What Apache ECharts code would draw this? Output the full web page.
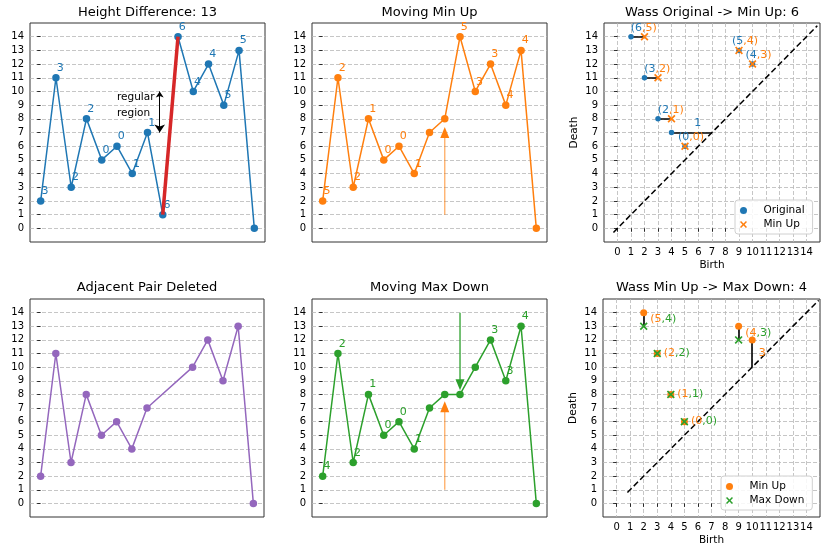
<!DOCTYPE html>
<html>
<head>
<meta charset="utf-8">
<script src="https://cdn.jsdelivr.net/npm/echarts@6/dist/echarts.min.js"></script>
<style>
html, body { margin: 0; padding: 0; background: #fff; }
#chartDiv { width: 830px; height: 558px; }
</style>
</head>
<body>
<div id="chartDiv"></div>
<script>
var myChart = echarts.init(document.getElementById('chartDiv'));

var blue = '#1f77b4', orange = '#ff7f0e', green = '#2ca02c', red = '#d62728', purple = '#9467bd';
var font = 'DejaVu Sans';

var ticks = [0, 1, 2, 3, 4, 5, 6, 7, 8, 9, 10, 11, 12, 13, 14];
var titleTexts = ['Height Difference: 13', 'Moving Min Up', 'Wass Original -> Min Up: 6',
    'Adjacent Pair Deleted', 'Moving Max Down', 'Wass Min Up -> Max Down: 4'];

// heights, index = position along the sequence
var originalY = [2, 11, 3, 8, 5, 6, 4, 7, 1, 14, 10, 12, 9, 13, 0];
var originalLabels = ['3', '3', '2', '2', '0', '0', '1', '1', '6', '6', '4', '4', '5', '5', ''];
var minUpY = [2, 11, 3, 8, 5, 6, 4, 7, 8, 14, 10, 12, 9, 13, 0];
var minUpLabels = ['5', '2', '2', '1', '0', '0', '1', '', '', '5', '3', '3', '4', '4', ''];
var deletedX = [0, 1, 2, 3, 4, 5, 6, 7, 10, 11, 12, 13, 14];
var deletedY = [2, 11, 3, 8, 5, 6, 4, 7, 10, 12, 9, 13, 0];
var maxDownY = [2, 11, 3, 8, 5, 6, 4, 7, 8, 8, 10, 12, 9, 13, 0];
var maxDownLabels = ['4', '2', '2', '1', '0', '0', '1', '', '', '', '', '3', '3', '4', ''];

var heightSegment = [[8, 1], [9, 14]];
var regularArrow = [[7.8, 10], [7.8, 7]];
var regularText = [5, 9];
// arrows: [x, start, tip]
var minUpArrow = [8, 1, 7.4];
var minUpArrow2 = [8, 1, 7.5];
var maxDownArrow = [9, 14, 8.3];

// persistence diagrams (birth, death)
var originalDgm = [[1, 14], [2, 11], [3, 8], [4, 7], [5, 6], [9, 13], [10, 12]];
var minUpDgm = [[2, 14], [3, 11], [4, 8], [5, 6], [9, 13], [10, 12]];
var maxDownDgm = [[2, 13], [3, 11], [4, 8], [5, 6], [9, 12]];
var match1 = [[[1, 14], [2, 14]], [[2, 11], [3, 11]], [[3, 8], [4, 8]], [[4, 7], [7, 7]],
    [[5, 6], [5, 6]], [[9, 13], [9, 13]], [[10, 12], [10, 12]]];
var match1From = ['6', '3', '2', '1', '0', '5', '4'];
var match1To = ['5', '2', '1', '', '0', '4', '3'];
var match2 = [[[2, 14], [2, 13]], [[9, 13], [9, 12]], [[10, 12], [10, 10]],
    [[3, 11], [3, 11]], [[4, 8], [4, 8]], [[5, 6], [5, 6]]];
var match2From = ['5', '4', '3', '2', '1', '0'];
var match2To = ['4', '3', '', '2', '1', '0'];
var diag1 = [-0.3, 14.8];
var diag2 = [0.8, 14.9];

var xSymbol = 'path://M0,1.5L1.5,0L5,3.5L8.5,0L10,1.5L6.5,5L10,8.5L8.5,10L5,6.5L1.5,10L0,8.5L3.5,5Z';

var gridDash = {type: [4, 2], color: '#b8b8b8', width: 0.8};

var grids = [
    {left: 30, top: 23, width: 235, height: 219},
    {left: 312, top: 23, width: 235, height: 219},
    {left: 604, top: 23, width: 216, height: 219},
    {left: 30, top: 299, width: 234, height: 218},
    {left: 312, top: 299, width: 235, height: 218},
    {left: 603, top: 299, width: 217, height: 218}
];
grids.forEach(function (g) {
    g.show = true;
    g.borderColor = '#333';
    g.borderWidth = 1;
    g.backgroundColor = 'transparent';
});

var titles = titleTexts.map(function (t, i) {
    return {
        text: t,
        left: grids[i].left + grids[i].width / 2,
        top: i < 3 ? 6 : 281,
        padding: 0,
        textAlign: 'center',
        textStyle: {fontFamily: font, fontSize: 13, fontWeight: 'normal', color: '#000'}
    };
});

function hideEnds(v) { return (v < 0 || v > 14) ? '' : String(v); }

function valueAxis(gi, isDiag, name, isX) {
    var ax = {
        type: 'value',
        gridIndex: gi,
        min: -1,
        max: 15,
        interval: 1,
        axisLine: {show: false},
        axisTick: {show: true, length: 3.5, customValues: ticks, lineStyle: {color: '#000', width: 0.8}},
        axisLabel: {show: true, customValues: ticks, formatter: hideEnds, margin: isX ? 5 : 6,
            fontFamily: font, fontSize: 10, color: '#000'},
        splitLine: {show: true, lineStyle: gridDash}
    };
    if (name) {
        ax.name = name;
        ax.nameLocation = 'middle';
        ax.nameGap = isX ? 18 : 24;
        ax.nameTextStyle = {fontFamily: font, fontSize: 10.5, color: '#000'};
    }
    return ax;
}

function seqXAxis(gi) {
    return {
        type: 'value', gridIndex: gi, min: -0.7, max: 14.7,
        axisLine: {show: false}, axisTick: {show: false}, axisLabel: {show: false}, splitLine: {show: false}
    };
}

var xAxes = [seqXAxis(0), seqXAxis(1), valueAxis(2, true, 'Birth', true),
    seqXAxis(3), seqXAxis(4), valueAxis(5, true, 'Birth', true)];
var yAxes = [valueAxis(0), valueAxis(1), valueAxis(2, true, 'Death', false),
    valueAxis(3), valueAxis(4), valueAxis(5, true, 'Death', false)];

function seqLine(gi, ys, xs, color, labels) {
    return {
        type: 'line',
        xAxisIndex: gi, yAxisIndex: gi,
        data: ys.map(function (v, i) { return [xs ? xs[i] : i, v]; }),
        symbol: 'circle', symbolSize: 7.5,
        itemStyle: {color: color, opacity: 1},
        lineStyle: {color: color, width: 1.5},
        label: {
            show: !!labels,
            position: [4.5, -11.5],
            fontFamily: font, fontSize: 11, color: color,
            formatter: function (p) { return labels ? labels[p.dataIndex] : ''; }
        },
        animation: false, z: 3
    };
}

function arrowSeries(gi, arr, color, shaftColor) {
    var up = arr[2] > arr[1];
    var center = up ? arr[2] - 0.4 : arr[2] + 0.4;
    return [{
        type: 'line', xAxisIndex: gi, yAxisIndex: gi,
        data: [[arr[0], arr[1]], [arr[0], center]],
        showSymbol: false, symbol: 'none',
        lineStyle: {color: shaftColor, width: 1.3},
        animation: false, z: 4
    }, {
        type: 'scatter', xAxisIndex: gi, yAxisIndex: gi,
        data: [[arr[0], center]],
        symbol: 'triangle', symbolSize: [9, 11], symbolRotate: up ? 0 : 180,
        itemStyle: {color: color, opacity: 1},
        animation: false, z: 5
    }];
}

function diagSeries(gi, diag, matches, fromPts, toPts, fromColor, toColor, fromName, toName,
                    fromSize, labFrom, labTo, labPos) {
    var mids = matches.map(function (m) {
        return [(m[0][0] + m[1][0]) / 2, (m[0][1] + m[1][1]) / 2];
    });
    return [{
        type: 'line', xAxisIndex: gi, yAxisIndex: gi,
        data: [[diag[0], diag[0]], [diag[1], diag[1]]],
        showSymbol: false, symbol: 'none',
        lineStyle: {color: '#000', width: 1.5, type: [6, 3]},
        animation: false, z: 2
    }, {
        type: 'lines', coordinateSystem: 'cartesian2d', xAxisIndex: gi, yAxisIndex: gi,
        data: matches.map(function (m) { return {coords: m}; }),
        lineStyle: {color: '#000', width: 1.6, opacity: 1},
        symbol: ['none', 'none'],
        animation: false, z: 3
    }, {
        name: fromName, type: 'scatter', xAxisIndex: gi, yAxisIndex: gi,
        data: fromPts, symbol: 'circle', symbolSize: fromSize,
        itemStyle: {color: fromColor, opacity: 1},
        animation: false, z: 4
    }, {
        name: toName, type: 'scatter', xAxisIndex: gi, yAxisIndex: gi,
        data: toPts, symbol: xSymbol, symbolSize: 8,
        itemStyle: {color: toColor, opacity: 1},
        animation: false, z: 5
    }, {
        type: 'scatter', xAxisIndex: gi, yAxisIndex: gi,
        data: mids, symbol: 'circle', symbolSize: 1, silent: true,
        itemStyle: {color: 'rgba(0,0,0,0)', opacity: 1},
        label: {
            show: true,
            position: labPos,
            distance: labPos === 'top' ? 3 : 6,
            offset: labPos === 'top' ? [6, 0] : [0, 0],
            fontFamily: font, fontSize: 11, color: '#000',
            textBorderWidth: 0, textShadowBlur: 0,
            formatter: function (p) {
                var a = labFrom[p.dataIndex], b = labTo[p.dataIndex];
                return b ? '{a|(' + a + '}{b|,' + b + ')}' : '{a|' + a + '}';
            },
            rich: {
                a: {color: fromColor, fontFamily: font, fontSize: 11, textBorderWidth: 0},
                b: {color: toColor, fontFamily: font, fontSize: 11, textBorderWidth: 0}
            }
        },
        animation: false, z: 6
    }];
}

var series = [];

// panel 1
series.push(seqLine(0, originalY, null, blue, originalLabels));
series.push({
    type: 'line', xAxisIndex: 0, yAxisIndex: 0, data: heightSegment,
    showSymbol: false, symbol: 'none', lineStyle: {color: red, width: 3.5}, animation: false, z: 4
});
series.push({
    type: 'lines', coordinateSystem: 'cartesian2d', xAxisIndex: 0, yAxisIndex: 0,
    data: [{coords: regularArrow}],
    symbol: ['arrow', 'arrow'], symbolSize: [6, 8],
    lineStyle: {color: '#000', width: 1, opacity: 1}, animation: false, z: 5
});
series.push({
    type: 'scatter', xAxisIndex: 0, yAxisIndex: 0, data: [regularText], symbolSize: 0, silent: true,
    itemStyle: {opacity: 1},
    label: {show: true, position: [0, 0], align: 'left', verticalAlign: 'middle',
        formatter: 'regular\nregion', lineHeight: 16, fontFamily: font, fontSize: 10.5, color: '#000'},
    animation: false
});

// panel 2
series.push(seqLine(1, minUpY, null, orange, minUpLabels));
series = series.concat(arrowSeries(1, minUpArrow, orange, 'rgba(255,127,14,0.65)'));

// panel 3
series = series.concat(diagSeries(2, diag1, match1, originalDgm, minUpDgm, blue, orange,
    'Original', 'Min Up', 5.5, match1From, match1To, 'top'));

// panel 4
series.push(seqLine(3, deletedY, deletedX, purple, null));

// panel 5
series.push(seqLine(4, maxDownY, null, green, maxDownLabels));
series = series.concat(arrowSeries(4, minUpArrow2, orange, 'rgba(255,127,14,0.65)'));
series = series.concat(arrowSeries(4, maxDownArrow, green, green));

// panel 6
series = series.concat(diagSeries(5, diag2, match2, minUpDgm, maxDownDgm, orange, green,
    'Min Up', 'Max Down', 7, match2From, match2To, 'right'));

function legendBox(left, top, items) {
    return {
        left: left, top: top, orient: 'vertical',
        data: items,
        itemWidth: 18, itemHeight: 7, itemGap: 3,
        padding: [5, 8, 4, 5],
        backgroundColor: 'rgba(255,255,255,0.85)',
        borderColor: '#d0d0d0', borderWidth: 1, borderRadius: 3,
        selectedMode: false,
        textStyle: {fontFamily: font, fontSize: 10.5, color: '#000', padding: [0, 0, 0, 6]}
    };
}

option = {
    backgroundColor: '#fff',
    animation: false,
    title: titles,
    grid: grids,
    xAxis: xAxes,
    yAxis: yAxes,
    legend: [
        legendBox(735, 200, [{name: 'Original', icon: 'circle'}, {name: 'Min Up', icon: xSymbol}]),
        legendBox(721, 476, [{name: 'Min Up', icon: 'circle'}, {name: 'Max Down', icon: xSymbol}])
    ],
    series: series
};
myChart.setOption(option);
</script>
</body>
</html>
